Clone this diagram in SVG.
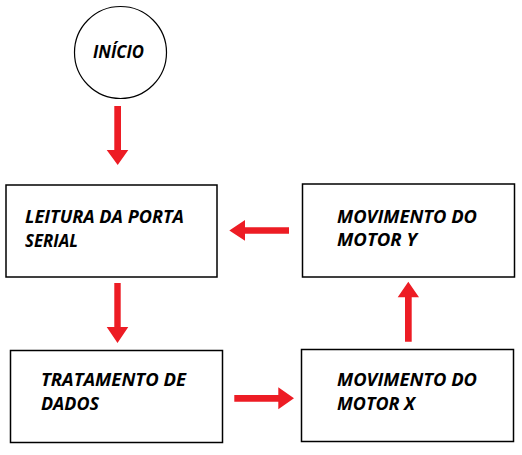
<svg xmlns="http://www.w3.org/2000/svg" width="522" height="455" viewBox="0 0 522 455">
<style>
.box{fill:#fff;stroke:#000;stroke-width:1.5}
.t{font-family:"Open Sans","DejaVu Sans",sans-serif;font-weight:bold;font-style:italic;font-size:17px;fill:#000}
.arr{fill:#ed1c24}
</style>
<rect width="522" height="455" fill="#fff"/>
<g id="inicio">
<circle cx="120.5" cy="52.5" r="46" fill="#fff" stroke="#000" stroke-width="1.2"/>
<text class="t" x="93" y="57.5" textLength="51" lengthAdjust="spacingAndGlyphs">INÍCIO</text>
</g>
<g id="leitura">
<rect class="box" x="6" y="185" width="211" height="92"/>
<text class="t" x="25" y="223" textLength="159" lengthAdjust="spacingAndGlyphs">LEITURA DA PORTA</text>
<text class="t" x="25" y="247" textLength="53" lengthAdjust="spacingAndGlyphs">SERIAL</text>
</g>
<g id="motor-y">
<rect class="box" x="302.5" y="184" width="212" height="93"/>
<text class="t" x="337" y="223" textLength="140" lengthAdjust="spacingAndGlyphs">MOVIMENTO DO</text>
<text class="t" x="337" y="246" textLength="80" lengthAdjust="spacingAndGlyphs">MOTOR Y</text>
</g>
<g id="tratamento">
<rect class="box" x="10.5" y="350.5" width="212" height="92"/>
<text class="t" x="41" y="386" textLength="145" lengthAdjust="spacingAndGlyphs">TRATAMENTO DE</text>
<text class="t" x="41" y="409.5" textLength="58" lengthAdjust="spacingAndGlyphs">DADOS</text>
</g>
<g id="motor-x">
<rect class="box" x="301.5" y="349.5" width="212" height="92"/>
<text class="t" x="337" y="386" textLength="140" lengthAdjust="spacingAndGlyphs">MOVIMENTO DO</text>
<text class="t" x="337" y="409.5" textLength="78" lengthAdjust="spacingAndGlyphs">MOTOR X</text>
</g>
<g id="connectors">
<polygon class="arr" points="114.3,106 121,106 121,150 128.3,150 117.7,165 106.7,150 114.3,150"/>
<polygon class="arr" points="114.3,283 120.7,283 120.7,327 128.3,327 117.5,343 106.7,327 114.3,327"/>
<polygon class="arr" points="234.3,395 278.3,395 278.3,387.3 294,398.3 278.3,409.3 278.3,401.7 234.3,401.7"/>
<polygon class="arr" points="405,341.7 405,297.3 397.7,297.3 408.3,281.7 419,297.3 411.7,297.3 411.7,341.7"/>
<polygon class="arr" points="289,227.3 245,227.3 245,220 229.3,230.5 245,240.7 245,233.7 289,233.7"/>
</g>
</svg>
